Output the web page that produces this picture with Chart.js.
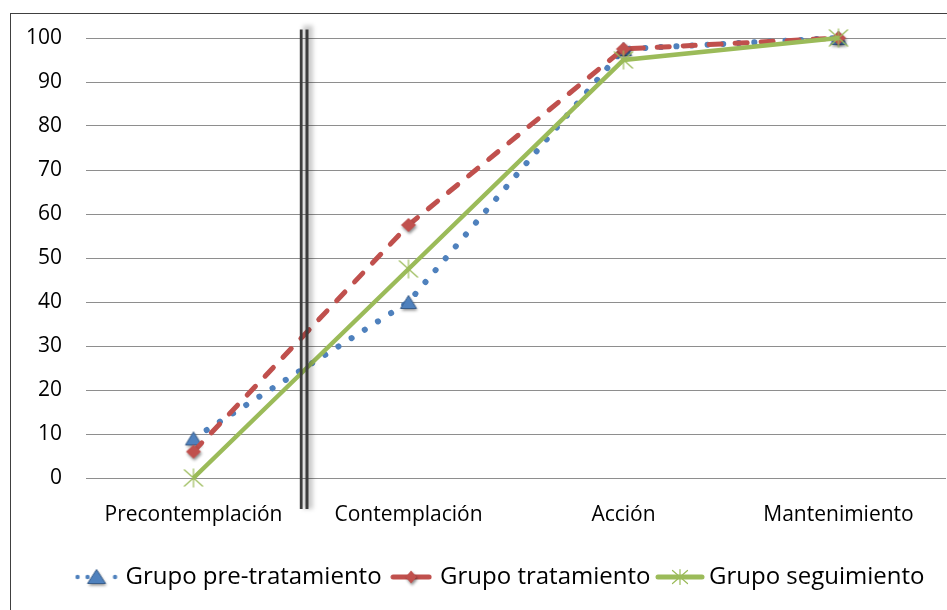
<!DOCTYPE html>
<html>
<head>
<meta charset="utf-8">
<script src="https://cdn.jsdelivr.net/npm/chart.js@4.4.1/dist/chart.umd.min.js"></script>
<style>
  html, body { margin: 0; padding: 0; background: #fff; overflow: hidden; }
  canvas { display: block; }
</style>
</head>
<body>
<canvas id="chart" width="947" height="610"></canvas>
<script>
// Stages of change and the percentage reached by each group
const categories = ['Precontemplación', 'Contemplación', 'Acción', 'Mantenimiento'];
const preTratamiento = [9, 40, 97.5, 100];
const tratamiento = [6, 57.5, 97.5, 100];
const seguimiento = [0, 47.5, 95, 100];
const seriesNames = ['Grupo pre-tratamiento', 'Grupo tratamiento', 'Grupo seguimiento'];
const yTicks = [0, 10, 20, 30, 40, 50, 60, 70, 80, 90, 100];

const FONT = '"Open Sans", Lato, sans-serif';
const BLUE = '#4f81bd', RED = '#c0504d', GREEN = '#9bbb59';

function makeCanvas(w, h, draw) {
  const c = document.createElement('canvas');
  c.width = w; c.height = h;
  draw(c.getContext('2d'), w, h);
  return c;
}
function withShadow(g) {
  g.shadowColor = 'rgba(0,0,0,0.45)';
  g.shadowBlur = 3;
  g.shadowOffsetX = 1;
  g.shadowOffsetY = 2;
}
function triangle(g, cx, cy, w, h) {
  g.save();
  withShadow(g);
  g.beginPath();
  g.moveTo(cx, cy - h / 2);
  g.lineTo(cx + w / 2, cy + h / 2);
  g.lineTo(cx - w / 2, cy + h / 2);
  g.closePath();
  g.fillStyle = BLUE;
  g.fill();
  g.restore();
  g.strokeStyle = '#385d8a';
  g.lineWidth = 1;
  g.stroke();
}
function diamond(g, cx, cy, w, h) {
  g.save();
  withShadow(g);
  g.beginPath();
  g.moveTo(cx, cy - h / 2);
  g.lineTo(cx + w / 2, cy);
  g.lineTo(cx, cy + h / 2);
  g.lineTo(cx - w / 2, cy);
  g.closePath();
  g.fillStyle = RED;
  g.fill();
  g.restore();
}
function star(g, cx, cy, w, h) {
  g.save();
  g.strokeStyle = GREEN;
  g.lineWidth = 1.2;
  g.beginPath();
  g.moveTo(cx - w / 2, cy - h / 2); g.lineTo(cx + w / 2, cy + h / 2);
  g.moveTo(cx + w / 2, cy - h / 2); g.lineTo(cx - w / 2, cy + h / 2);
  g.moveTo(cx, cy - h / 2 - 1); g.lineTo(cx, cy + h / 2 + 1);
  g.stroke();
  g.restore();
}
function dot(g, x, y, r, color) {
  g.beginPath();
  g.arc(x, y, r, 0, Math.PI * 2);
  g.fillStyle = color;
  g.fill();
}

// Point markers
const triPoint = makeCanvas(26, 26, (g) => triangle(g, 13, 13, 16, 13));
const diaPoint = makeCanvas(26, 26, (g) => diamond(g, 13, 13, 15, 14));
const starPoint = makeCanvas(26, 26, (g) => star(g, 13, 13, 19, 17));

// Legend swatches: line style plus marker
const preIcon = makeCanvas(44, 24, (g) => {
  dot(g, 3, 12, 2.2, BLUE);
  dot(g, 13, 12, 2.2, BLUE);
  dot(g, 40.5, 12, 2.2, BLUE);
  triangle(g, 22, 11.5, 18, 14);
});
const tratIcon = makeCanvas(42, 24, (g) => {
  g.strokeStyle = RED; g.lineWidth = 5; g.lineCap = 'round';
  g.beginPath(); g.moveTo(3, 12); g.lineTo(39, 12); g.stroke();
  diamond(g, 21, 12, 11, 13);
});
const segIcon = makeCanvas(50, 24, (g) => {
  g.strokeStyle = GREEN; g.lineWidth = 5; g.lineCap = 'round';
  g.beginPath(); g.moveTo(3, 12); g.lineTo(47, 12); g.stroke();
  star(g, 25, 12, 15, 13);
});
const legendIcons = [preIcon, tratIcon, segIcon];

// Outer frame of the chart
const framePlugin = {
  id: 'frame',
  beforeDraw(chart) {
    const { ctx, width, height } = chart;
    ctx.save();
    ctx.fillStyle = '#fff';
    ctx.fillRect(0, 0, width, height);
    ctx.strokeStyle = '#404040';
    ctx.lineWidth = 1;
    ctx.strokeRect(10.5, 13.5, width + 100, height + 100);
    ctx.restore();
  }
};

// The frame runs past the right edge, so the legend row sits right of the canvas centre
const legendShift = {
  id: 'legendShift',
  afterLayout(chart) {
    if (chart.legend) {
      chart.legend.left += 29;
      chart.legend.right += 29;
    }
  }
};

// Double divider between the first and second stage
const dividerPlugin = {
  id: 'divider',
  afterDatasetsDraw(chart) {
    const { ctx, chartArea, scales: { x } } = chart;
    const xb = (x.getPixelForValue(0) + x.getPixelForValue(1)) / 2;
    const top = chartArea.top - 8.5;
    const bottom = chartArea.bottom + 31;
    ctx.save();
    ctx.filter = 'blur(2px)';
    ctx.fillStyle = 'rgba(0,0,0,0.2)';
    ctx.fillRect(xb + 2, top - 4, 10, bottom - top + 4);
    ctx.filter = 'none';
    ctx.fillStyle = '#3c3c3c';
    ctx.fillRect(xb - 1.2, top, 2.8, bottom - top);
    ctx.fillRect(xb + 4.5, top, 3, bottom - top);
    ctx.restore();
  }
};

new Chart(document.getElementById('chart'), {
  type: 'line',
  data: {
    labels: categories,
    datasets: [
      {
        label: seriesNames[0],
        data: preTratamiento,
        borderColor: BLUE,
        borderWidth: 6,
        borderDash: [0.1, 15.5],
        borderCapStyle: 'round',
        pointStyle: triPoint,
        pointRadius: 8,
        pointHoverRadius: 8,
        tension: 0,
        fill: false,
        clip: false,
        order: 3
      },
      {
        label: seriesNames[1],
        data: tratamiento,
        borderColor: RED,
        borderWidth: 5,
        borderDash: [12, 14],
        borderCapStyle: 'round',
        pointStyle: diaPoint,
        pointRadius: 8,
        pointHoverRadius: 8,
        tension: 0,
        fill: false,
        clip: false,
        order: 2
      },
      {
        label: seriesNames[2],
        data: seguimiento,
        borderColor: GREEN,
        borderWidth: 4.5,
        pointStyle: starPoint,
        pointRadius: 8,
        pointHoverRadius: 8,
        tension: 0,
        fill: false,
        clip: false,
        order: 1
      }
    ]
  },
  options: {
    responsive: false,
    animation: false,
    events: [],
    layout: { autoPadding: false, padding: { top: 38, left: 0, right: 1, bottom: 11 } },
    scales: {
      x: {
        offset: true,
        grid: { display: false, drawTicks: false },
        border: { display: false },
        ticks: { color: '#000', padding: 24.4, font: { family: FONT, size: 21 }, maxRotation: 0, autoSkip: false },
        afterFit(scale) {
          scale.height = 74.5;
          scale.paddingLeft = 0;
          scale.paddingRight = 0;
        }
      },
      y: {
        min: 0,
        max: 100,
        grid: { color: '#8e8e8e', lineWidth: 1, drawTicks: false },
        border: { display: false },
        ticks: { color: '#000', padding: 24, font: { family: FONT, size: 21 } },
        afterBuildTicks(scale) { scale.ticks = yTicks.map((v) => ({ value: v })); },
        afterFit(scale) { scale.width = 86; }
      }
    },
    plugins: {
      tooltip: { enabled: false },
      legend: {
        position: 'bottom',
        align: 'center',
        labels: {
          usePointStyle: true,
          pointStyleWidth: 34,
          padding: 12.5,
          color: '#000',
          font: { family: FONT, size: 24 },
          generateLabels: () => seriesNames.map((name, i) => ({
            text: name,
            pointStyle: legendIcons[i],
            fillStyle: 'transparent',
            strokeStyle: 'transparent',
            lineWidth: 0,
            hidden: false,
            datasetIndex: i
          }))
        }
      }
    }
  },
  plugins: [framePlugin, legendShift, dividerPlugin]
});
</script>
</body>
</html>
